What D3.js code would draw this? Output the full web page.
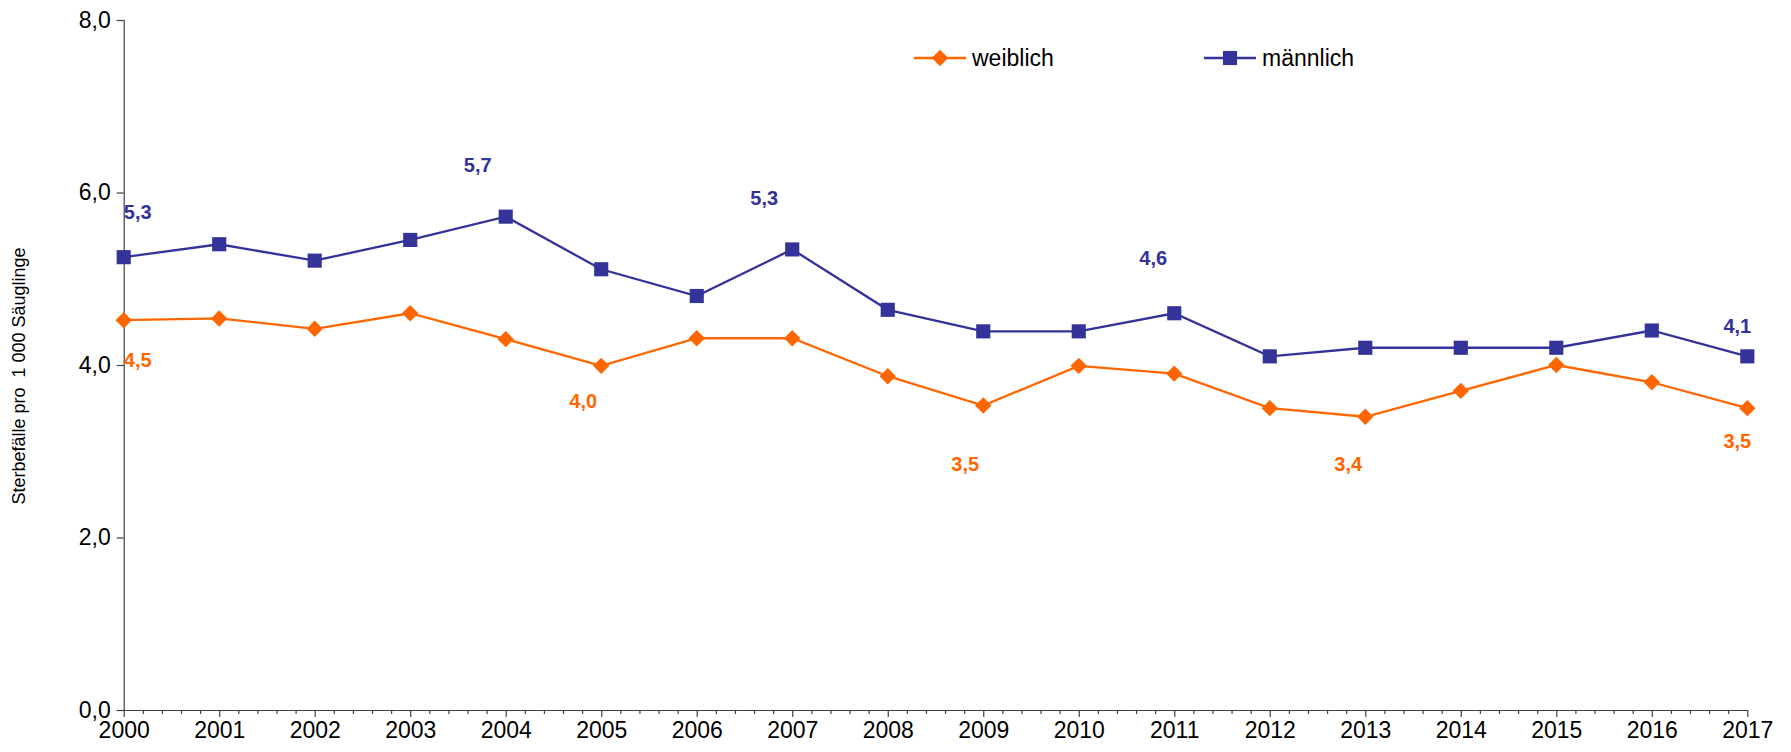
<!DOCTYPE html>
<html>
<head>
<meta charset="utf-8">
<script src="https://cdn.jsdelivr.net/npm/d3@7"></script>
<style>
  html, body { margin: 0; padding: 0; background: #fff; }
  svg { display: block; font-family: "Liberation Sans", Arial, sans-serif; }
</style>
</head>
<body>
<svg id="chart" width="1791" height="752"></svg>
<script>
// ---- data ----
const years = [2000, 2001, 2002, 2003, 2004, 2005, 2006, 2007, 2008, 2009, 2010, 2011, 2012, 2013, 2014, 2015, 2016, 2017];
const weiblich = [4.52, 4.54, 4.42, 4.60, 4.30, 3.99, 4.31, 4.31, 3.87, 3.53, 3.99, 3.90, 3.50, 3.40, 3.70, 4.00, 3.80, 3.50];
const maennlich = [5.25, 5.40, 5.21, 5.45, 5.72, 5.11, 4.80, 5.34, 4.64, 4.39, 4.39, 4.60, 4.10, 4.20, 4.20, 4.20, 4.40, 4.10];
const yTicks = [0, 2, 4, 6, 8];
const seriesNames = ["weiblich", "männlich"];
const yTitle = "Sterbefälle pro  1 000 Säuglinge";
// labelled points (years) per series
const weiblichLabelYears = [2000, 2005, 2009, 2013, 2017];
const maennlichLabelYears = [2000, 2004, 2007, 2011, 2017];
// label placement offsets (layout only)
const weiblichLabelOffsets = [[14, 40], [-18, 35], [-18, 58], [-17, 47], [-10, 33]];
const maennlichLabelOffsets = [[14, -45], [-28, -52], [-28, -51], [-21, -55], [-10, -30]];

const orange = "#FF6600", blue = "#333399", axisColor = "#404040";

const svg = d3.select("#chart");
const x = d3.scaleLinear().domain([2000, 2017]).range([123.7, 1747.3]);
const y = d3.scaleLinear().domain([0, 8]).range([710, 20]);

// y axis
const yAxis = d3.axisLeft(y).tickValues(yTicks).tickSize(7).tickPadding(6)
  .tickFormat(d => d3.format(".1f")(d).replace(".", ","));
const gy = svg.append("g").attr("transform", `translate(${x(2000)},0)`).call(yAxis);
gy.selectAll("path, line").attr("stroke", axisColor).attr("stroke-width", 1.2);
gy.selectAll("text").attr("font-size", 23).attr("fill", "#000").attr("font-family", "Liberation Sans, Arial, sans-serif");

// x axis minor ticks
const minor = d3.range(0, 17 * 5 + 1).map(i => 2000 + i / 5).filter((v, i) => i % 5 !== 0);
const gxm = svg.append("g").attr("transform", `translate(0,${y(0)})`)
  .call(d3.axisBottom(x).tickValues(minor).tickSize(4).tickFormat(""));
gxm.select("path").remove();
gxm.selectAll("line").attr("stroke", axisColor).attr("stroke-width", 1.2);

// x axis major
const gx = svg.append("g").attr("transform", `translate(0,${y(0)})`)
  .call(d3.axisBottom(x).tickValues(years).tickSize(7).tickSizeOuter(0).tickPadding(5).tickFormat(d3.format("d")));
gx.selectAll("path, line").attr("stroke", axisColor).attr("stroke-width", 1.2);
gx.selectAll("text").attr("font-size", 23).attr("fill", "#000").attr("font-family", "Liberation Sans, Arial, sans-serif");

// y title
svg.append("text")
  .attr("transform", `translate(25,376) rotate(-90)`)
  .attr("text-anchor", "middle")
  .attr("font-size", 18)
  .attr("fill", "#000")
  .style("white-space", "pre")
  .text(yTitle);

const line = d3.line().x((d, i) => x(years[i])).y(d => y(d));

// markers
const diamond = d3.symbol().type(d3.symbolSquare).size(135);
const square = d3.symbol().type(d3.symbolSquare).size(200);

function drawSeries(values, color, sym, rot) {
  svg.append("path").datum(values)
    .attr("d", line).attr("fill", "none").attr("stroke", color).attr("stroke-width", 2.3);
  svg.append("g").selectAll("path").data(values).join("path")
    .attr("d", sym)
    .attr("transform", (d, i) => `translate(${x(years[i])},${y(d)}) rotate(${rot})`)
    .attr("fill", color);
}
drawSeries(weiblich, orange, diamond, 45);
drawSeries(maennlich, blue, square, 0);

function drawLabels(values, labelYears, offsets, color) {
  svg.append("g").selectAll("text").data(labelYears).join("text")
    .attr("x", (yr, k) => x(yr) + offsets[k][0])
    .attr("y", (yr, k) => y(values[years.indexOf(yr)]) + offsets[k][1])
    .attr("dy", "0.35em")
    .attr("text-anchor", "middle")
    .attr("font-size", 20)
    .attr("font-weight", "bold")
    .attr("fill", color)
    .text(yr => d3.format(".1f")(values[years.indexOf(yr)]).replace(".", ","));
}
drawLabels(weiblich, weiblichLabelYears, weiblichLabelOffsets, orange);
drawLabels(maennlich, maennlichLabelYears, maennlichLabelOffsets, blue);

// legend
const legend = [
  { name: seriesNames[0], color: orange, sym: diamond, rot: 45, x0: 914 },
  { name: seriesNames[1], color: blue, sym: square, rot: 0, x0: 1204 }
];
const lg = svg.append("g");
legend.forEach(l => {
  const g = lg.append("g").attr("transform", `translate(${l.x0},58)`);
  g.append("line").attr("x1", 0).attr("x2", 52).attr("y1", 0).attr("y2", 0)
    .attr("stroke", l.color).attr("stroke-width", 2.3);
  g.append("path").attr("d", l.sym).attr("transform", `translate(26,0) rotate(${l.rot})`).attr("fill", l.color);
  g.append("text").attr("x", 58).attr("y", 0).attr("dy", "0.35em")
    .attr("font-size", 23).attr("fill", "#000").text(l.name);
});
</script>
</body>
</html>
